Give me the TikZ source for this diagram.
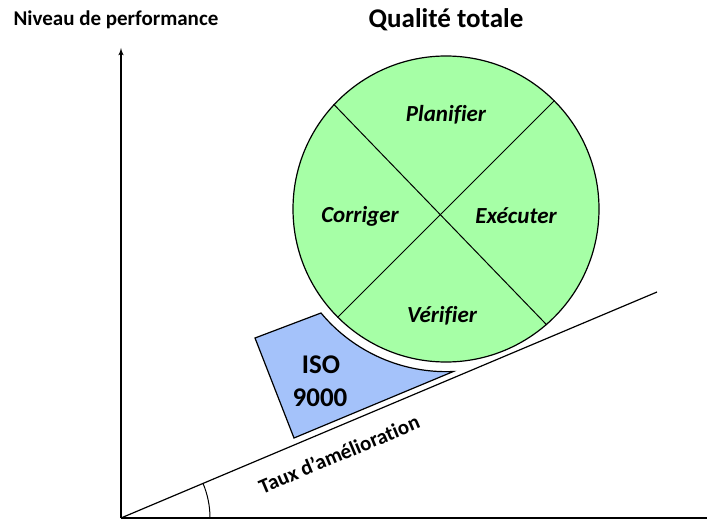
\documentclass[tikz,border=0pt]{standalone}
\usepackage{fontspec}
\setmainfont{Carlito}[Ligatures=NoCommon]
\usepackage{tikz}
\usetikzlibrary{arrows}
\definecolor{pdcagreen}{RGB}{166,255,166}
\definecolor{isoblue}{RGB}{164,194,250}

\begin{document}
\begin{tikzpicture}[x=1pt,y=1pt]
        \tikzset{axis/.style = {line width=1.5pt}}
        \tikzset{edge/.style = {->,> = latex', shorten >=-2pt}}
        \tikzset{lbl/.style = {font=\fontsize{21}{24}\selectfont\bfseries}}
        \tikzset{quarter/.style = {font=\fontsize{23}{26}\selectfont\bfseries\itshape}}
        \tikzset{big/.style = {font=\fontsize{27}{30}\selectfont\bfseries}}
        \useasboundingbox (0,0) rectangle (708,520);
        % axes
        \coordinate (O) at (121,2);
        \coordinate (ytop) at (121,470);
        \coordinate (xend) at (707,2);
        \coordinate (slope) at (657,228);
        \draw[axis,edge] (O) -- (ytop);
        \draw[axis] (O) -- (xend);
        \draw[line width=1.2pt] (O) -- (slope);
        \draw[line width=1pt] (210,2) arc[start angle=0, end angle=22.86, radius=89];
        % iso block
        \draw[line width=1.2pt, fill=isoblue] (255,182) -- (321,207)
            arc[start angle=219.8, end angle=272.5, radius=163] -- (294,82) -- cycle;
        % wheel
        \node[circle, draw, line width=1.2pt, fill=pdcagreen, minimum size=306pt, inner sep=0pt] (wheel) at (446,311) {};
        \draw[line width=1pt] (wheel.45) -- (wheel.225);
        \draw[line width=1pt] (wheel.137.4) -- (wheel.311.8);
        % labels
        \node[lbl] (niveau) at (116,500) {Niveau de performance};
        \node[big] (titre) at (446,500) {Qualité totale};
        \node[quarter] (plan) at (446,405) {Planifier};
        \node[quarter] (corr) at (360,304) {Corriger};
        \node[quarter] (exec) at (516,304) {Exécuter};
        \node[quarter] (verif) at (442,204) {Vérifier};
        \node[big] (iso) at (321,155) {ISO};
        \node[big] (norme) at (320,122) {9000};
        \node[lbl, rotate=22.86] (taux) at (339,66) {Taux d’amélioration};
    \end{tikzpicture}
\end{document}
